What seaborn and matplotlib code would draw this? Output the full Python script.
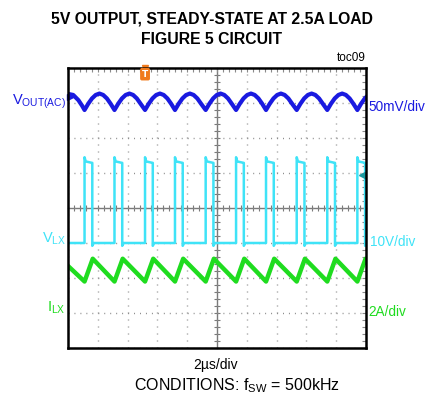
import numpy as np
import pandas as pd
import seaborn as sns
import matplotlib.pyplot as plt

# switch turn-on instants (us)
t_on = [1.11, 3.12, 5.17, 7.18, 9.24, 11.28, 13.29, 15.35, 17.40, 19.42]

# V_LX: shape of one pulse after turn-on (us, V)
vlx_dt = [0.0, 0.0, 0.08, 0.50, 0.52, 0.52, 0.62]
vlx_v = [0.0, 24.5, 23.3, 22.9, 22.9, -0.8, 0.0]

# I_LX: valley at turn-on, peak at turn-off (us, A)
ilx_dt = [0.0, 0.55]
ilx_a = [1.8, 3.1]
ilx_start = 2.69

# V_OUT(AC) ripple over one period (us, mV)
vout_dt = [0.0, 0.25, 0.5, 0.75, 1.0, 1.25, 1.5, 1.75]
vout_mv = [-10.0, -1.0, 6.5, 11.5, 13.5, 11.5, 6.5, -1.0]
vout_lead_t = [0.0, 0.35, 0.7, 0.95]
vout_lead_mv = [13.0, 11.5, 4.0, -4.0]

# channel settings: (units per div, offset in div)
vout_scale, vout_off = 50.0, 3.0
vlx_scale, vlx_off = 10.0, -1.0
ilx_scale, ilx_off = 2.0, -3.0


def tile(dt, vals, lead_t=(), lead_v=()):
    t = list(lead_t)
    v = list(lead_v)
    for t0 in t_on:
        for d, y in zip(dt, vals):
            t.append(t0 + d)
            v.append(y)
    return np.array(t), np.array(v)


tv, vv = tile(vout_dt, vout_mv, vout_lead_t, vout_lead_mv)
df_vout = pd.DataFrame({"t": tv, "div": vout_off + vv / vout_scale})
tl, vl = tile(vlx_dt, vlx_v, [0.0], [0.0])
df_vlx = pd.DataFrame({"t": tl, "div": vlx_off + vl / vlx_scale})
ti, vi = tile(ilx_dt, ilx_a, [0.0], [ilx_start])
df_ilx = pd.DataFrame({"t": ti, "div": ilx_off + vi / ilx_scale})

c_blue = "#1a1ae0"
c_cyan = "#3fe3f7"
c_green = "#1fdc1f"

sns.set_style("white")
plt.rcParams["font.family"] = ["Liberation Sans", "DejaVu Sans"]
plt.rcParams["text.color"] = "black"
plt.rcParams["mathtext.default"] = "regular"
plt.rcParams["lines.scale_dashes"] = False

W, H = 435, 403
fig = plt.figure(figsize=(W / 100, H / 100), dpi=100)
ax = fig.add_axes([68 / W, 1 - 348 / H, 298 / W, 280 / H])

# grid, frame, ticks
ax.set_xlim(0, 20)
ax.set_ylim(-4, 4)
ax.set_xticks(np.arange(0, 21, 2))
ax.set_yticks(np.arange(-4, 5, 1))
ax.set_xticks(np.arange(0, 20.01, 0.4), minor=True)
ax.set_yticks(np.arange(-4, 4.01, 0.2), minor=True)
ax.tick_params(which="both", direction="in", top=True, right=True, length=3, width=0.8,
               color="#8a8a8a", labelbottom=False, labelleft=False)
ax.xaxis.grid(True, color="#8a8a8a", lw=1.0, linestyle=(0, (0.7, 4.34)))
ax.yaxis.grid(True, color="#8a8a8a", lw=1.0, linestyle=(0, (0.7, 3.59)))
for s in ax.spines.values():
    s.set_color("black")
    s.set_linewidth(1.8)

# centre cross with small ticks
sx = ax.secondary_xaxis(0.5)
sx.set_xticks(np.arange(0, 20.01, 0.4))
sx.tick_params(axis="x", direction="inout", length=5, width=0.8, color="#7a7a7a",
               labeltop=False, labelbottom=False)
sy = ax.secondary_yaxis(0.5)
sy.set_yticks(np.arange(-4, 4.01, 0.2))
sy.tick_params(axis="y", direction="inout", length=5, width=0.8, color="#7a7a7a",
               labelleft=False, labelright=False)
for sec in (sx, sy):
    for s in sec.spines.values():
        s.set_color("#7a7a7a")
        s.set_linewidth(1.0)

# traces
sns.lineplot(data=df_vout, x="t", y="div", sort=False, estimator=None, color=c_blue,
             lw=3.0, ax=ax)
sns.lineplot(data=df_ilx, x="t", y="div", sort=False, estimator=None, color=c_green,
             lw=3.2, ax=ax)
sns.lineplot(data=df_vlx, x="t", y="div", sort=False, estimator=None, color=c_cyan,
             lw=1.8, ax=ax)
ax.set_xlabel("")
ax.set_ylabel("")

# scope markers
ax.plot([t_on[2]], [1.0], marker="v", ms=4, color="#f07a1c", transform=ax.get_xaxis_transform(),
        clip_on=False)
ax.text(t_on[2], 0.978, "T", transform=ax.get_xaxis_transform(), ha="center", va="center",
        fontsize=6.5, fontweight="bold", color="white", family="DejaVu Sans",
        bbox=dict(boxstyle="round,pad=0.2", fc="#f07a1c", ec="none"))
ax.plot([0.006], [0.896], marker=">", ms=4, color=c_blue, transform=ax.transAxes, clip_on=False)
ax.plot([0.985], [0.618], marker="<", ms=5, color="#1a9aa0", transform=ax.transAxes,
        clip_on=False)


def ftext(x, y, s, **kw):
    fig.text(x / W, 1 - y / H, s, **kw)


ftext(212, 19, "5V OUTPUT, STEADY-STATE AT 2.5A LOAD", ha="center", va="center",
      fontsize=11.3, fontweight="bold")
ftext(212, 40, "FIGURE 5 CIRCUIT", ha="center", va="center", fontsize=11.3, fontweight="bold")
ftext(366, 58, "toc09", ha="right", va="center", fontsize=8.5)

ftext(66, 105, "V$_{OUT(AC)}$", ha="right", va="baseline", fontsize=10.5, color=c_blue)
ftext(66, 243, "V$_{LX}$", ha="right", va="baseline", fontsize=10.5, color=c_cyan)
ftext(66, 311.5, "I$_{LX}$", ha="right", va="baseline", fontsize=10.5, color=c_green)
ftext(368, 111, "50mV/div", ha="left", va="baseline", fontsize=9.8, color=c_blue)
ftext(370, 246, "10V/div", ha="left", va="baseline", fontsize=9.8, color=c_cyan)
ftext(368, 316, "2A/div", ha="left", va="baseline", fontsize=9.8, color=c_green)

ftext(215.5, 365, "2\u00b5s/div", ha="center", va="center", fontsize=10)
ftext(237, 386, "CONDITIONS: f$_{SW}$ = 500kHz", ha="center", va="center", fontsize=11.5)

fig.savefig("out.png", dpi=100)
